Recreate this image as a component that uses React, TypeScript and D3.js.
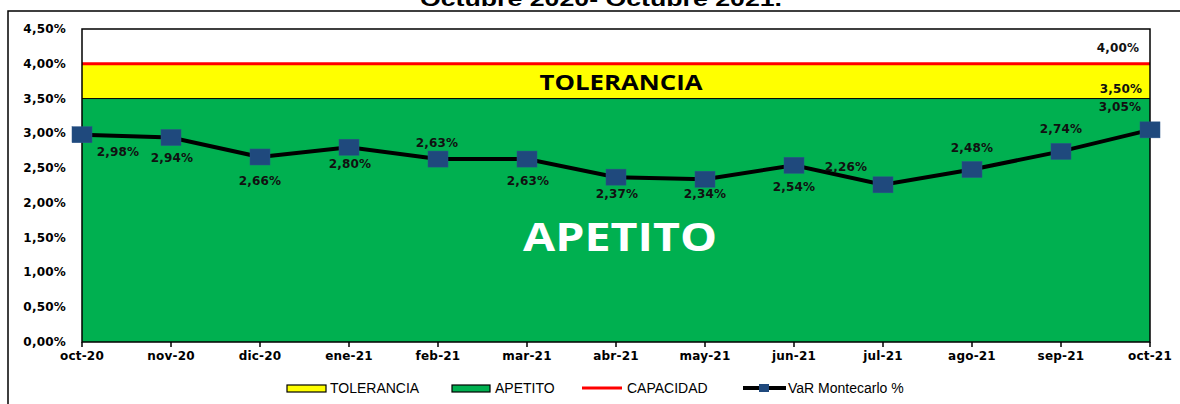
import React from "react";
import * as d3 from "d3";

const categories = ["oct-20","nov-20","dic-20","ene-21","feb-21","mar-21","abr-21","may-21","jun-21","jul-21","ago-21","sep-21","oct-21"];
const varMontecarlo = [2.98, 2.94, 2.66, 2.80, 2.63, 2.63, 2.37, 2.34, 2.54, 2.26, 2.48, 2.74, 3.05];
const apetito = categories.map(() => 3.5);
const tolerancia = categories.map(() => 0.5);
const capacidad = categories.map(() => 4.0);
const yTicks = [0, 0.5, 1, 1.5, 2, 2.5, 3, 3.5, 4, 4.5];
// label offsets (dx, dy of label centre relative to point)
const labelOffsets: [number, number][] = [
  [36, 17], [1, 20], [0, 24], [1, 17], [-1, -16], [1, 22], [1, 17], [0, 15], [0, 22], [-37, -18], [0, -22], [0, -22], [-30, -23],
];

const W = 1180, H = 404;
const L = 82, R = 1150, T = 29, B = 342;

const fmt = (v: number) => d3.format(".2f")(v).replace(".", ",") + "%";

export default function App() {
  const x = d3.scalePoint<string>().domain(categories).range([L, R]);
  const y = d3.scaleLinear().domain([0, 4.5]).range([B, T]);
  const axisFont = { fontFamily: "DejaVu Sans, Verdana, sans-serif", fontWeight: 700, fontSize: 12, letterSpacing: 0.2 } as const;

  const greenArea = d3.area<number>().x((_, i) => x(categories[i])!).y0(() => y(0)).y1((d) => y(d))(apetito)!;
  const yellowArea = d3.area<number>().x((_, i) => x(categories[i])!).y0((_, i) => y(apetito[i])).y1((d, i) => y(apetito[i] + d))(tolerancia)!;
  const apetitoTop = d3.line<number>().x((_, i) => x(categories[i])!).y((d) => y(d))(apetito)!;
  const capLine = d3.line<number>().x((_, i) => x(categories[i])!).y((d) => y(d))(capacidad)!;
  const varLine = d3.line<number>().x((_, i) => x(categories[i])!).y((d) => y(d))(varMontecarlo)!;

  const lastX = x(categories[categories.length - 1])!;
  const legendY = 388;
  const legendText = { fontFamily: "Liberation Sans, Arial, sans-serif", fontSize: 14, fill: "#000" } as const;

  return (
    <svg width={W} height={H} style={{ position: "absolute", left: 0, top: 0, background: "#fff" }}>
      <rect x={0} y={0} width={W} height={H} fill="#fff" />
      <text x={601} y={6} textAnchor="middle" fontFamily="Liberation Sans, Arial, sans-serif" fontWeight={700} fontSize={20} textLength={362} lengthAdjust="spacingAndGlyphs">Octubre 2020- Octubre 2021.</text>
      <rect x={8} y={11} width={1300} height={500} fill="none" stroke="#000" strokeWidth={1.5} />

      <path d={greenArea} fill="#00B050" />
      <path d={yellowArea} fill="#FFFF00" />
      <path d={apetitoTop} fill="none" stroke="#000" strokeWidth={1} />
      <path d={capLine} fill="none" stroke="#FF0000" strokeWidth={3} />
      <rect x={L} y={T} width={R - L} height={B - T} fill="none" stroke="#000" strokeWidth={1.5} />

      {categories.map((c) => (
        <line key={"t" + c} x1={x(c)} x2={x(c)} y1={B} y2={B + 5} stroke="#000" strokeWidth={1.5} />
      ))}

      {yTicks.map((t) => (
        <text key={"y" + t} x={66} y={y(t) + 4} textAnchor="end" {...axisFont} fill="#000">{fmt(t)}</text>
      ))}
      {categories.map((c) => (
        <text key={"x" + c} x={x(c)} y={360} textAnchor="middle" {...axisFont} fill="#000">{c}</text>
      ))}

      <text x={621} y={90} textAnchor="middle" fontFamily="Open Sans, sans-serif" fontWeight={700} fontSize={21} textLength={163} lengthAdjust="spacingAndGlyphs" fill="#000">TOLERANCIA</text>
      <text x={620} y={251} textAnchor="middle" fontFamily="Open Sans, sans-serif" fontWeight={700} fontSize={40} textLength={194} lengthAdjust="spacingAndGlyphs" fill="#fff">APETITO</text>

      <path d={varLine} fill="none" stroke="#000" strokeWidth={4} />
      {varMontecarlo.map((v, i) => (
        <rect key={"m" + i} x={x(categories[i])! - 10} y={y(v) - 8} width={20} height={16} fill="#1F497D" stroke="#2A5489" strokeWidth={0.5} />
      ))}
      {varMontecarlo.map((v, i) => (
        <text key={"l" + i} x={x(categories[i])! + labelOffsets[i][0]} y={y(v) + labelOffsets[i][1] + 4} textAnchor="middle" {...axisFont} fill="#111">{fmt(v)}</text>
      ))}
      <text x={lastX - 29} y={y(apetito[apetito.length - 1]) - 6} textAnchor="middle" {...axisFont} fill="#111">{fmt(apetito[apetito.length - 1])}</text>
      <text x={lastX - 32} y={y(capacidad[capacidad.length - 1]) - 12} textAnchor="middle" {...axisFont} fill="#111">{fmt(capacidad[capacidad.length - 1])}</text>

      {/* legend */}
      <rect x={287} y={legendY - 3} width={39} height={7} fill="#FFFF00" stroke="#000" strokeWidth={1.2} />
      <text x={330} y={legendY + 5} {...legendText}>TOLERANCIA</text>
      <rect x={452} y={legendY - 3} width={38} height={7} fill="#00B050" stroke="#000" strokeWidth={1.2} />
      <text x={495} y={legendY + 5} {...legendText}>APETITO</text>
      <line x1={582} x2={622} y1={legendY} y2={legendY} stroke="#FF0000" strokeWidth={3} />
      <text x={627} y={legendY + 5} {...legendText}>CAPACIDAD</text>
      <line x1={743} x2={786} y1={legendY} y2={legendY} stroke="#000" strokeWidth={4} />
      <rect x={759} y={legendY - 4} width={10} height={8} fill="#1F497D" />
      <text x={788} y={legendY + 5} {...legendText}>VaR Montecarlo %</text>
    </svg>
  );
}
